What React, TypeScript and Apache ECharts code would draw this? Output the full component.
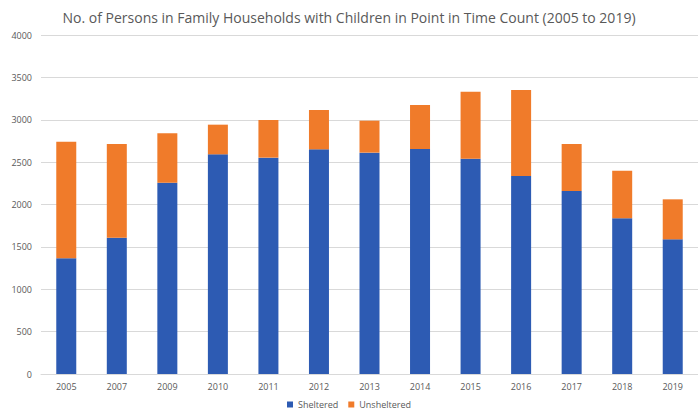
import React, { useEffect, useRef } from "react";
import * as echarts from "echarts";

const years = ["2005", "2007", "2009", "2010", "2011", "2012", "2013", "2014", "2015", "2016", "2017", "2018", "2019"];
const sheltered = [1365, 1608, 2257, 2592, 2553, 2651, 2612, 2655, 2541, 2336, 2159, 1837, 1589];
const unsheltered = [1376, 1106, 583, 350, 444, 464, 377, 519, 790, 1015, 555, 562, 472];
const titleText = "No. of Persons in Family Households with Children in Point in Time Count (2005 to 2019)";

export default function App() {
  const ref = useRef<HTMLDivElement>(null);
  useEffect(() => {
    const chart = echarts.init(ref.current!, null, { renderer: "svg" });
    chart.setOption({
      animation: false,
      backgroundColor: "#ffffff",
      title: {
        text: titleText,
        left: "center",
        top: 5,
        textStyle: { fontFamily: "Open Sans", fontSize: 14, fontWeight: "normal", color: "#595959" },
      },
      legend: {
        bottom: 3,
        left: "center",
        itemWidth: 6,
        itemHeight: 6,
        icon: "rect",
        itemGap: 10,
        textStyle: { fontFamily: "Open Sans", fontSize: 9, color: "#595959" },
        data: ["Sheltered", "Unsheltered"],
      },
      grid: { left: 41, right: -11, top: 35, bottom: 43 },
      xAxis: {
        type: "category",
        data: years,
        axisLine: { show: true, lineStyle: { color: "#d9d9d9" } },
        axisTick: { show: false },
        axisLabel: { fontFamily: "Open Sans", fontSize: 9, color: "#595959", margin: 8 },
      },
      yAxis: {
        type: "value",
        min: 0,
        max: 4000,
        interval: 500,
        axisLine: { show: false },
        axisTick: { show: false },
        axisLabel: {
          fontFamily: "Open Sans",
          fontSize: 9,
          color: "#595959",
          margin: 9,
          formatter: (v: number) => String(v),
        },
        splitLine: { lineStyle: { color: "#d9d9d9" } },
      },
      series: [
        {
          name: "Sheltered",
          type: "bar",
          stack: "total",
          data: sheltered,
          barWidth: 20,
          itemStyle: { color: "#2D5BB3" },
        },
        {
          name: "Unsheltered",
          type: "bar",
          stack: "total",
          data: unsheltered,
          barWidth: 20,
          itemStyle: { color: "#F07B2A" },
        },
      ],
    });
    return () => chart.dispose();
  }, []);
  return <div ref={ref} style={{ width: 698, height: 417, position: "absolute", left: 0, top: 0 }} />;
}
